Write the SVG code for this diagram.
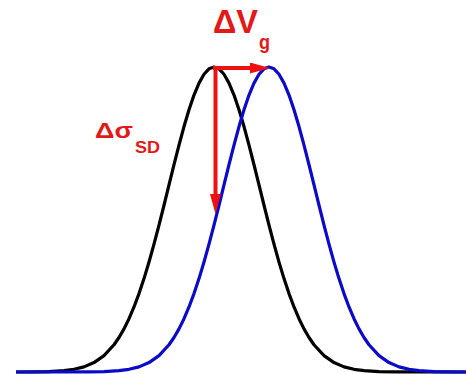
<svg xmlns="http://www.w3.org/2000/svg" width="466" height="374" viewBox="0 0 466 374">
<style>
.curve{fill:none;stroke-width:3.2;stroke-linejoin:round;stroke-linecap:butt}
.black{stroke:#000000}
.blue{stroke:#0a0ac8}
.arrow{stroke:#ee1111;stroke-width:4;fill:none}
.lbl{font-family:"Liberation Sans",Arial,sans-serif;font-weight:bold;fill:#e31818}
</style>
<defs>
<marker id="head" markerUnits="userSpaceOnUse" markerWidth="20" markerHeight="11" refX="2" refY="5.5" orient="auto" viewBox="0 0 20 11">
<path d="M0,0 L20,5.5 L0,11 z" fill="#ee1111"/>
</marker>
</defs>
<rect width="466" height="374" fill="#ffffff"/>
<g id="curves">
<g id="curve-black">
<path class="curve black" d="M16,372 L34,371.88 L49,371.57 L64,370.67 L74,369.32 L84,366.85 L94,362.58 L104,355.59 L114,344.74 L119,337.51 L124,328.88 L129,318.73 L134,306.98 L139,293.60 L144,278.60 L149,262.07 L154,244.14 L159,225.10 L164,205.25 L169,184.97 L174,164.74 L179,145.11 L184,126.58 L189,109.73 L194,95.09 L199,83.13 L204,74.28 L209,68.84 L214,67 L219,68.84 L224,74.28 L229,83.13 L234,95.09 L239,109.73 L244,126.58 L249,145.11 L254,164.74 L259,184.97 L264,205.25 L269,225.10 L274,244.14 L279,262.07 L284,278.60 L289,293.60 L294,306.98 L299,318.73 L304,328.88 L309,337.51 L314,344.74 L324,355.59 L334,362.58 L344,366.85 L354,369.32 L364,370.67 L379,371.57 L394,371.88 L466,372"/>
</g>
<g id="curve-blue">
<path class="curve blue" d="M16,372 L89,371.88 L104,371.57 L119,370.67 L129,369.32 L139,366.85 L149,362.58 L159,355.59 L169,344.74 L174,337.51 L179,328.88 L184,318.73 L189,306.98 L194,293.60 L199,278.60 L204,262.07 L209,244.14 L214,225.10 L219,205.25 L224,184.97 L229,164.74 L234,145.11 L239,126.58 L244,109.73 L249,95.09 L254,83.13 L259,74.28 L264,68.84 L269,67 L274,68.84 L279,74.28 L284,83.13 L289,95.09 L294,109.73 L299,126.58 L304,145.11 L309,164.74 L314,184.97 L319,205.25 L324,225.10 L329,244.14 L334,262.07 L339,278.60 L344,293.60 L349,306.98 L354,318.73 L359,328.88 L364,337.51 L369,344.74 L379,355.59 L389,362.58 L399,366.85 L409,369.32 L419,370.67 L434,371.57 L449,371.88 L466,372"/>
</g>
</g>
<g id="connectors">
<line class="arrow" x1="213" y1="68" x2="252" y2="68" marker-end="url(#head)"/>
<line class="arrow" x1="215.5" y1="66" x2="215.5" y2="196" marker-end="url(#head)"/>
</g>
<g id="label-dVg">
<text class="lbl" x="213" y="33" font-size="34" textLength="45" lengthAdjust="spacingAndGlyphs">ΔV</text>
<text class="lbl" x="259" y="49" font-size="20" textLength="11" lengthAdjust="spacingAndGlyphs">g</text>
</g>
<g id="label-dsigma">
<text class="lbl" x="95" y="138" font-size="22" textLength="38" lengthAdjust="spacingAndGlyphs">Δσ</text>
<text class="lbl" x="135" y="153" font-size="16" textLength="25" lengthAdjust="spacingAndGlyphs">SD</text>
</g>
</svg>
